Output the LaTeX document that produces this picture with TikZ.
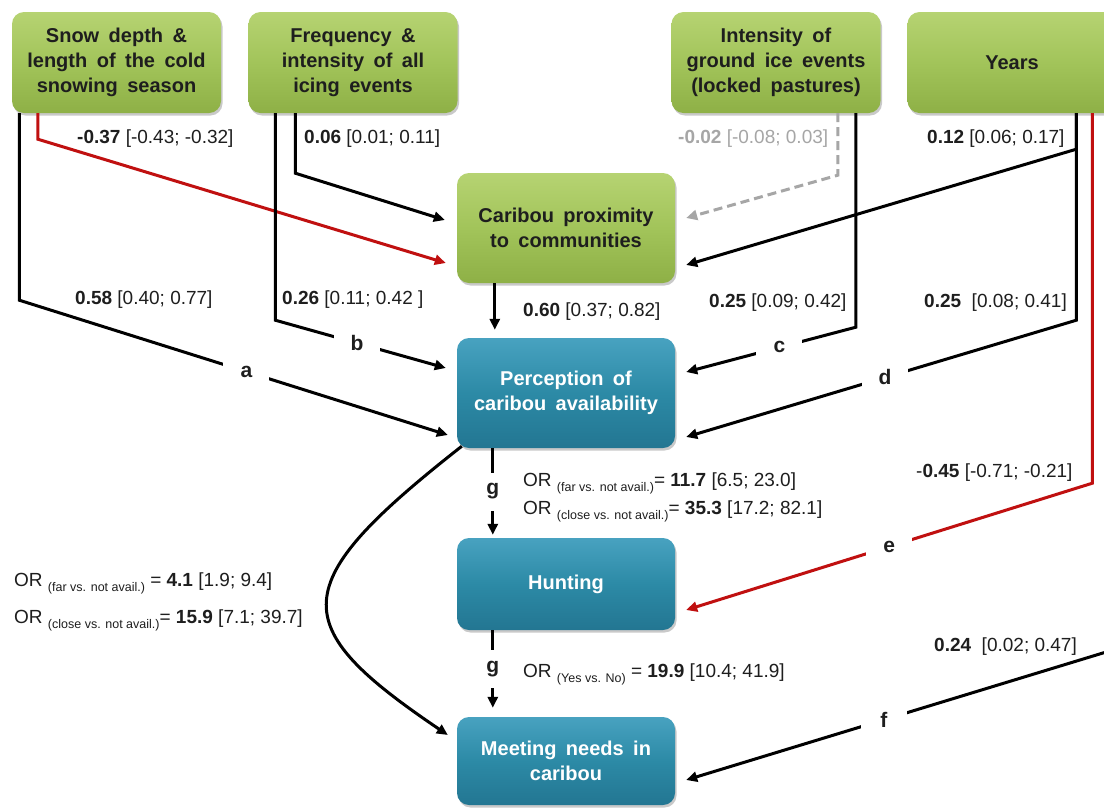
\documentclass[tikz,border=0pt]{standalone}
\usepackage{fontspec}
\setmainfont{Liberation Sans}
\newfontfamily\boxfont[WordSpace=1.7]{Liberation Sans}
\usetikzlibrary{arrows.meta,calc,shadows}
\definecolor{grnT}{RGB}{182,211,114}
\definecolor{grnM}{RGB}{162,196,90}
\definecolor{grnB}{RGB}{142,176,70}
\definecolor{bluT}{RGB}{72,162,192}
\definecolor{bluM}{RGB}{44,138,166}
\definecolor{bluB}{RGB}{35,118,146}
\definecolor{negred}{RGB}{192,16,16}
\definecolor{nsgrey}{RGB}{166,166,166}
\definecolor{txtc}{RGB}{30,30,30}
\newcommand{\orsub}[1]{\raisebox{-5pt}{\fontsize{12.5}{14}\selectfont #1}}
\begin{document}
\begin{tikzpicture}[x=1pt,y=-1pt,
  gbox/.style={rounded corners=12pt, top color=grnT, bottom color=grnB, middle color=grnM,
    minimum width=209pt, minimum height=101pt, align=center, inner sep=0pt,
    font=\boxfont\bfseries\fontsize{20}{25}\selectfont, text=txtc,
    drop shadow={shadow xshift=1.5pt, shadow yshift=-2.5pt, opacity=0.35, fill=black!60}},
  bbox/.style={rounded corners=12pt, top color=bluT, bottom color=bluB, middle color=bluM,
    minimum width=218pt, align=center, inner sep=0pt,
    font=\boxfont\bfseries\fontsize{20}{25}\selectfont, text=white,
    drop shadow={shadow xshift=1.5pt, shadow yshift=-2.5pt, opacity=0.35, fill=black!60}},
  conn/.style={line width=3pt, -{Triangle[length=11pt,width=10pt]}},
  lbl/.style={font=\bfseries\fontsize{21}{24}\selectfont, fill=white, inner sep=0pt,
    minimum width=46pt, minimum height=20pt, text=txtc},
  glbl/.style={font=\bfseries\fontsize{21}{24}\selectfont, fill=white, inner sep=0pt,
    minimum width=16pt, minimum height=38pt, text=txtc},
  val/.style={font=\fontsize{19}{22}\selectfont, inner sep=0pt, anchor=west, text=txtc}
]
\useasboundingbox (0,0) rectangle (1104,807);
\clip (0,0) rectangle (1104,807);
\fill[white] (0,0) rectangle (1104,807);

% boxes
\node[gbox] (snow) at (116.5,62.5) {Snow depth \&\\length of the cold\\snowing season};
\node[gbox] (freq) at (353,62.5) {Frequency \&\\intensity of all\\icing events};
\node[gbox] (inten) at (776,62.5) {Intensity of\\ground ice events\\(locked pastures)};
\node[gbox] (years) at (1012,62.5) {Years};
\node[gbox, minimum width=218pt, minimum height=110pt] (prox) at (566,228) {Caribou proximity\\to communities};
\node[bbox, minimum height=110pt] (perc) at (566,393) {Perception of\\caribou availability};
\node[bbox, minimum height=92pt] (hunt) at (566,584) {Hunting};
\node[bbox, minimum height=88pt] (meet) at (566,761) {Meeting needs in\\caribou};

% connectors to proximity
\draw[conn, negred] ($(snow.south west)+(26,0)$) -- ++(0,26) -- ($(prox.west)+(-11,35)$);
\draw[conn] ($(freq.south west)+(47,0)$) -- ++(0,60) -- ($(prox.west)+(-12,-8)$);
\draw[conn, nsgrey, dash pattern=on 9pt off 5pt] ($(inten.south west)+(166.5,0)$) -- ++(0,62) -- ($(prox.east)+(11,-10)$);
\draw[conn] ($(years.south west)+(169,0)$) -- ++(0,36) -- ($(prox.east)+(11,37)$);

% connectors to perception
\draw[conn] ($(snow.south west)+(7.5,0)$) -- ++(0,187) -- node[lbl, pos=0.53] (la) {a} ($(perc.west)+(-9,42)$);
\draw[conn] ($(freq.south west)+(27,0)$) -- ++(0,207) -- node[lbl, pos=0.48] (lb) {b} ($(perc.west)+(-11,-25)$);
\draw[conn] ($(prox.south west)+(38,0)$) -- ($(perc.north west)+(38,-8)$);
\draw[conn] ($(inten.south west)+(184.5,0)$) -- ++(0,214) -- node[lbl, pos=0.45] (lc) {c} ($(perc.east)+(11,-21)$);
\draw[conn] ($(years.south west)+(169,0)$) -- ++(0,207) -- node[lbl, pos=0.49] (ld) {d} ($(perc.east)+(11,44)$);

% to hunting
\draw[conn, negred] ($(years.south west)+(185,0)$) -- ++(0,370) -- node[lbl, pos=0.5] (le) {e} ($(hunt.east)+(11,26)$);
\draw[conn] ($(perc.south west)+(36,0)$) -- node[glbl] (lg1) {g} ($(hunt.north west)+(36,-3)$);

% to meeting
\coordinate (fs) at (1116,649);
\draw[conn] (fs) -- node[lbl, pos=0.54] (lf) {f} ($(meet.east)+(11,19)$);
\draw[conn] ($(hunt.south west)+(36,0)$) -- node[glbl] (lg2) {g} ($(meet.north west)+(36,-9)$);
\draw[conn] ($(perc.south west)+(5,-2)$) .. controls (285,585) and (285,625) .. ($(meet.west)+(-9,-26)$);

% values
\node[val] (v037) at (77,139) {\textbf{-0.37} [-0.43; -0.32]};
\node[val] (v006) at (304,139) {\textbf{0.06} [0.01; 0.11]};
\node[val, text=nsgrey] (v002) at (678,139) {\textbf{-0.02} [-0.08; 0.03]};
\node[val] (v012) at (927,139) {\textbf{0.12} [0.06; 0.17]};
\node[val] (v058) at (75,300) {\textbf{0.58} [0.40; 0.77]};
\node[val] (v026) at (282,300) {\textbf{0.26} [0.11; 0.42 ]};
\node[val] (v060) at (523,312) {\textbf{0.60} [0.37; 0.82]};
\node[val] (v025a) at (709,303) {\textbf{0.25} [0.09; 0.42]};
\node[val] (v025b) at (924,303) {\textbf{0.25}\ \ [0.08; 0.41]};
\node[val] (v045) at (916,473) {-\textbf{0.45} [-0.71; -0.21]};
\node[val] (v024) at (934,647) {\textbf{0.24}\ \ [0.02; 0.47]};
\node[val] (or1) at (523,483) {OR \orsub{(far vs. not avail.)}= \textbf{11.7} [6.5; 23.0]};
\node[val] (or2) at (523,511) {OR \orsub{(close vs. not avail.)}= \textbf{35.3} [17.2; 82.1]};
\node[val] (or3) at (523,674) {OR \orsub{(Yes vs. No)} = \textbf{19.9} [10.4; 41.9]};
\node[val] (orl1) at (14,583) {OR \orsub{(far vs. not avail.)} = \textbf{4.1} [1.9; 9.4]};
\node[val] (orl2) at (14,620) {OR \orsub{(close vs. not avail.)}= \textbf{15.9} [7.1; 39.7]};
\end{tikzpicture}
\end{document}
